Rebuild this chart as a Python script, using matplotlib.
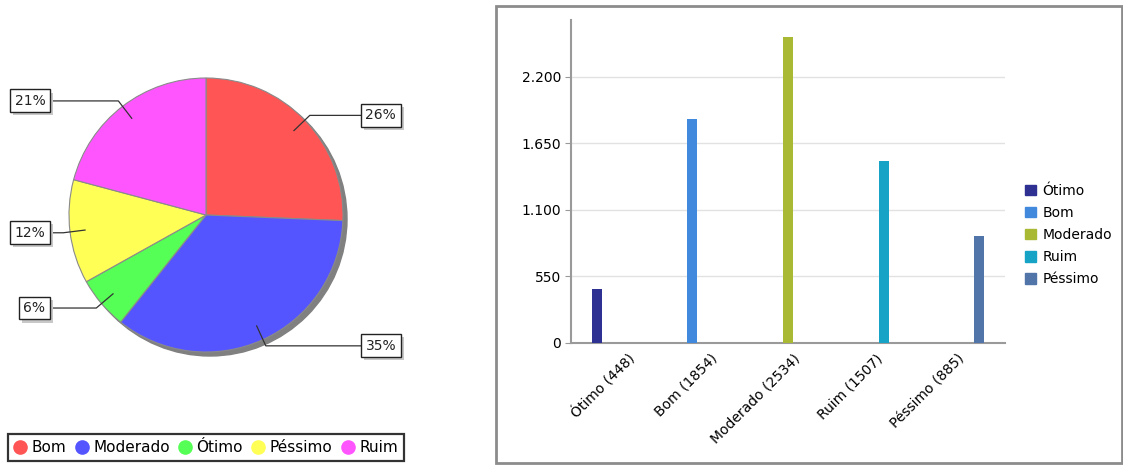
import numpy as np
import matplotlib.pyplot as plt
import matplotlib.patches as mpatches
import matplotlib.patheffects as pe
from matplotlib.lines import Line2D
from matplotlib.ticker import FuncFormatter

# pie data (legend order)
pie_labels = ["Bom", "Moderado", "Ótimo", "Péssimo", "Ruim"]
pie_values = [1854, 2534, 448, 885, 1507]
pie_colors = ["#ff5555", "#5555ff", "#55ff55", "#ffff55", "#ff55ff"]

# bar data
bar_labels = ["Ótimo", "Bom", "Moderado", "Ruim", "Péssimo"]
bar_values = [448, 1854, 2534, 1507, 885]
bar_colors = ["#2e3192", "#4189dd", "#a9b933", "#17a3c6", "#5175a9"]
y_ticks = [0, 550, 1100, 1650, 2200]

W, H = 1123, 467
fig = plt.figure(figsize=(W / 100, H / 100), dpi=100)

# ---- pie (axes in pixel units, y up) ----
ax = fig.add_axes([0, 0, 470 / W, 1])
cx, cy, r = 206, H - 215, 137
ax.add_patch(mpatches.Circle((cx + 4, cy - 4), r, color="#808080", zorder=0))
wedges, _ = ax.pie(pie_values, colors=pie_colors, startangle=90, counterclock=False,
                   center=(cx, cy), radius=r, frame=True,
                   wedgeprops=dict(edgecolor="#8a8a8a", linewidth=0.8))
ax.set_xlim(0, 470)
ax.set_ylim(0, H)
ax.axis("off")

total = sum(pie_values)
for w, v in zip(wedges, pie_values):
    ang = np.deg2rad((w.theta1 + w.theta2) / 2)
    dx, dy = np.cos(ang), np.sin(ang)
    x0, y0 = cx + 0.89 * r * dx, cy + 0.89 * r * dy
    x1, y1 = cx + 1.05 * r * dx, cy + 1.05 * r * dy
    txt = f"{round(100 * v / total)}%"
    if dx > 0:
        xe, xt, ha = 361, 365.5, "left"
    else:
        xe, xt, ha = 50, 45.5, "right"
    ax.plot([x0, x1, xe], [y0, y1, y1], color="#333333", lw=0.9, zorder=3)
    t = ax.text(xt, y1, txt, ha=ha, va="center", fontsize=10, color="#222222",
                bbox=dict(boxstyle="square,pad=0.32", fc="white", ec="#222222", lw=1),
                zorder=4)
    t.get_bbox_patch().set_path_effects([
        pe.SimplePatchShadow(offset=(2.2, -2.2), shadow_rgbFace="#c8c8c8", alpha=1),
        pe.Normal()])

handles = [Line2D([], [], marker="o", ls="none", markersize=9.5, markerfacecolor=c,
                  markeredgecolor=c) for c in pie_colors]
leg = fig.legend(handles, pie_labels, loc="center", bbox_to_anchor=(206 / W, 1 - 447.5 / H),
                 ncol=5, fontsize=11, frameon=True, fancybox=False, handlelength=0.8,
                 handletextpad=0.35, columnspacing=0.6, borderpad=0.4, borderaxespad=0)
leg.get_frame().set_edgecolor("black")
leg.get_frame().set_linewidth(1.6)

# ---- bar chart ----
fig.add_artist(mpatches.Rectangle((496 / W, 1 - 463 / H), 626 / W, 457 / H,
                                  transform=fig.transFigure, fill=False,
                                  ec="#8c8c8c", lw=2))

bx = fig.add_axes([571 / W, 1 - 343 / H, 434 / W, 323 / H])
n = len(bar_labels)
slot, bw = 13 / 82.5, 10 / 82.5
x = np.arange(n)
bx.bar(x + (x - 2) * slot, bar_values, width=bw, color=bar_colors, zorder=3)
bx.set_xlim(-0.63, n - 1 + 0.63)
bx.set_ylim(0, 2671)
bx.set_yticks(y_ticks)
bx.yaxis.set_major_formatter(FuncFormatter(lambda v, p: f"{int(v):,}".replace(",", ".")))
bx.grid(axis="y", color="#e2e2e2", lw=1, zorder=0)
for s in ["top", "right"]:
    bx.spines[s].set_visible(False)
for s in ["left", "bottom"]:
    bx.spines[s].set_color("#9a9a9a")
    bx.spines[s].set_linewidth(1.5)
bx.tick_params(axis="y", length=4, color="#9a9a9a", labelsize=10, pad=3)
bx.set_xticks(x + 0.06)
bx.set_xticklabels([f"{c} ({v})" for c, v in zip(bar_labels, bar_values)],
                   rotation=45, ha="right", rotation_mode="anchor", fontsize=10)
bx.tick_params(axis="x", length=0, pad=6)

bh = [mpatches.Patch(color=c) for c in bar_colors]
fig.legend(bh, bar_labels, loc="center left", bbox_to_anchor=(1019 / W, 1 - 235 / H),
           frameon=False, fontsize=10, handlelength=0.8, handleheight=0.8,
           handletextpad=0.5, labelspacing=0.58, borderaxespad=0)

fig.savefig("out.png", dpi=100)
